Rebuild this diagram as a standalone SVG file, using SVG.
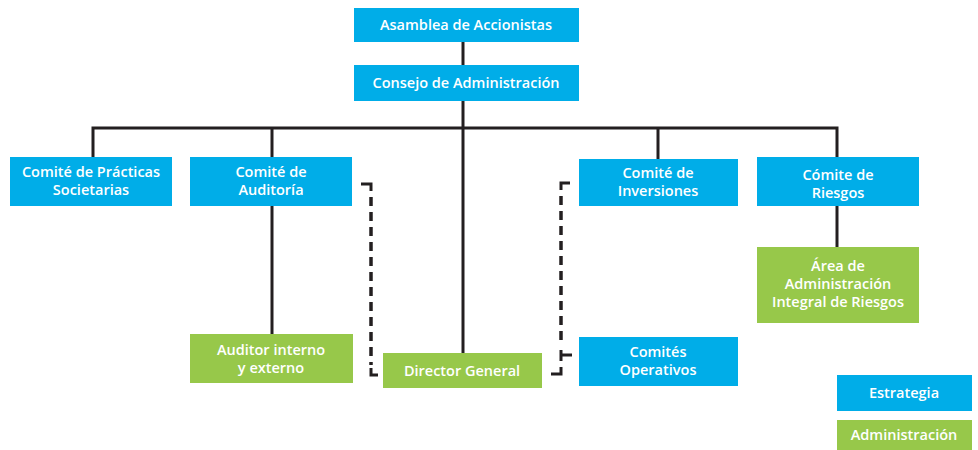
<svg xmlns="http://www.w3.org/2000/svg" width="978" height="450" viewBox="0 0 978 450">
<style>
.b{fill:#00ADE8}
.g{fill:#97C84A}
text{font-family:"Open Sans","Liberation Sans",sans-serif;font-weight:600;font-size:14.5px;fill:#fff;text-anchor:middle}
.ln{stroke:#231F20;stroke-width:3;fill:none}
.ds{stroke:#231F20;stroke-width:3.5;fill:none;stroke-dasharray:9,6}
</style>
<rect width="978" height="450" fill="#fff"/>
<g id="connectors">
<line class="ln" x1="463" y1="42" x2="463" y2="65"/>
<line class="ln" x1="463" y1="101" x2="463" y2="353"/>
<polyline class="ln" points="93,157 93,128 837,128 837,157"/>
<line class="ln" x1="272" y1="128" x2="272" y2="157"/>
<line class="ln" x1="658" y1="128" x2="658" y2="159"/>
<line class="ln" x1="272" y1="206" x2="272" y2="334"/>
<line class="ln" x1="837" y1="206" x2="837" y2="247"/>
<polyline class="ln" points="361,184 371,184 371,191"/>
<line class="ds" x1="371" y1="197" x2="371" y2="365"/>
<polyline class="ln" points="371,368 371,375 378,375"/>
<polyline class="ln" points="570,183 561,183 561,190"/>
<line class="ds" x1="561" y1="196" x2="561" y2="346"/>
<line class="ln" x1="561" y1="350" x2="561" y2="361"/>
<line class="ln" x1="561" y1="355" x2="572" y2="355"/>
<polyline class="ln" points="561,367 561,374 551,374"/>
</g>
<g id="asamblea"><rect class="b" x="354" y="8" width="225" height="34"/><text x="466" y="30">Asamblea de Accionistas</text></g>
<g id="consejo"><rect class="b" x="354" y="65" width="225" height="36"/><text x="466" y="88">Consejo de Administración</text></g>
<g id="practicas"><rect class="b" x="10" y="157" width="162" height="49"/><text x="91" y="177">Comité de Prácticas</text><text x="91" y="195">Societarias</text></g>
<g id="auditoria"><rect class="b" x="190" y="157" width="162" height="49"/><text x="271" y="177">Comité de</text><text x="271" y="195">Auditoría</text></g>
<g id="inversiones"><rect class="b" x="579" y="159" width="159" height="47"/><text x="658" y="178">Comité de</text><text x="658" y="196">Inversiones</text></g>
<g id="riesgos"><rect class="b" x="757" y="157" width="162" height="49"/><text x="838" y="180">Cómite de</text><text x="838" y="198">Riesgos</text></g>
<g id="area"><rect class="g" x="757" y="247" width="162" height="76"/><text x="838" y="271">Área de</text><text x="838" y="289">Administración</text><text x="838" y="307">Integral de Riesgos</text></g>
<g id="auditor"><rect class="g" x="190" y="334" width="163" height="49"/><text x="271" y="355">Auditor interno</text><text x="271" y="373">y externo</text></g>
<g id="director"><rect class="g" x="383" y="353" width="159" height="35"/><text x="462" y="376">Director General</text></g>
<g id="operativos"><rect class="b" x="579" y="337" width="159" height="49"/><text x="658" y="357">Comités</text><text x="658" y="375">Operativos</text></g>
<g id="legend-estrategia"><rect class="b" x="837" y="375" width="135" height="36"/><text x="904" y="398">Estrategia</text></g>
<g id="legend-administracion"><rect class="g" x="837" y="420" width="135" height="30"/><text x="904" y="440">Administración</text></g>
</svg>
